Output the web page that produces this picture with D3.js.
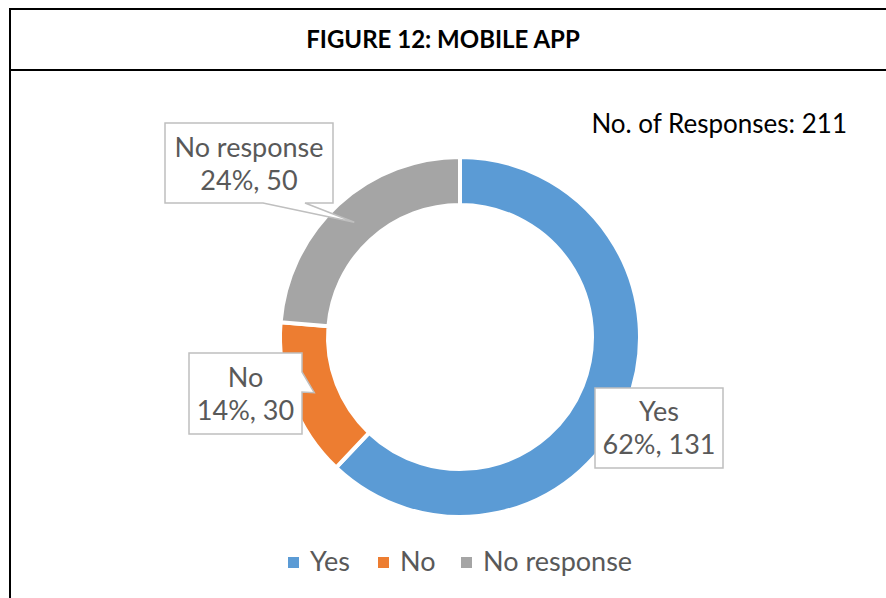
<!DOCTYPE html>
<html>
<head>
<meta charset="utf-8">
<style>
body { margin: 0; padding: 0; background: white; overflow: hidden; }
svg { display: block; }
.lbl { font-family: Lato, "Open Sans", sans-serif; fill: #595959; }
</style>
</head>
<body>
<script src="https://cdn.jsdelivr.net/npm/d3@7"></script>
<script>
var categories = ["Yes", "No", "No response"];
var counts = [131, 30, 50];
var percents = ["62%", "14%", "24%"];
var colors = ["#5B9BD5", "#ED7D31", "#A5A5A5"];
var total = 211;

var width = 886, height = 598;
var cx = 460, cy = 337, rOuter = 180, rInner = 132;

var svg = d3.select("body").append("svg")
    .attr("width", width)
    .attr("height", height);

// frame + title row
svg.append("rect")
    .attr("x", 10).attr("y", 9)
    .attr("width", 900).attr("height", 620)
    .attr("fill", "none").attr("stroke", "#000").attr("stroke-width", 2);
svg.append("line")
    .attr("x1", 10).attr("x2", 900).attr("y1", 70).attr("y2", 70)
    .attr("stroke", "#000").attr("stroke-width", 2);
svg.append("text")
    .attr("x", 443).attr("y", 48)
    .attr("text-anchor", "middle")
    .style("font-family", "Lato, sans-serif")
    .style("font-weight", "bold")
    .style("font-size", "24px")
    .text("FIGURE 12: MOBILE APP");

svg.append("text")
    .attr("x", 847).attr("y", 133)
    .attr("text-anchor", "end")
    .style("font-family", "Lato, sans-serif")
    .style("font-size", "26px")
    .text("No. of Responses: " + total);

var data = categories.map(function(c, i) {
    return { name: c, value: counts[i], pct: percents[i], color: colors[i] };
});

var pie = d3.pie().sort(null).value(function(d) { return d.value; });
var arc = d3.arc().innerRadius(rInner).outerRadius(rOuter);
var midArc = d3.arc().innerRadius(156).outerRadius(156);
var arcs = pie(data);

var g = svg.append("g").attr("transform", "translate(" + cx + "," + cy + ")");
g.selectAll("path.slice")
    .data(arcs)
    .enter().append("path")
    .attr("class", "slice")
    .attr("d", arc)
    .attr("fill", function(d) { return d.data.color; })
    .attr("stroke", "#fff")
    .attr("stroke-width", 4);

// callout boxes: box, which edge has the pointer, and where the notch sits on it
var callouts = [
    { i: 0, box: [595, 388, 723, 468], edge: null, line1: 421, line2: 454 },
    { i: 1, box: [189, 353, 302, 434], edge: "right", notch: [372, 392], line1: 387, line2: 420 },
    { i: 2, box: [165, 123, 333, 203], edge: "bottom", notch: [263, 305], line1: 157, line2: 190 }
];

function calloutPath(c, tip) {
    var x0 = c.box[0], y0 = c.box[1], x1 = c.box[2], y1 = c.box[3];
    var p = d3.path();
    p.moveTo(x0, y0);
    p.lineTo(x1, y0);
    if (c.edge == "right") {
        p.lineTo(x1, c.notch[0]);
        p.lineTo(tip[0], tip[1]);
        p.lineTo(x1, c.notch[1]);
    }
    p.lineTo(x1, y1);
    if (c.edge == "bottom") {
        p.lineTo(c.notch[1], y1);
        p.lineTo(tip[0], tip[1]);
        p.lineTo(c.notch[0], y1);
    }
    p.lineTo(x0, y1);
    p.closePath();
    return p.toString();
}

callouts.forEach(function(c) {
    var a = arcs[c.i];
    var ct = midArc.centroid(a);
    var tip = [cx + ct[0], cy + ct[1]];
    svg.append("path")
        .attr("d", calloutPath(c, tip))
        .attr("fill", "#fff")
        .attr("stroke", "#BFBFBF")
        .attr("stroke-width", 1.5);
    var mx = (c.box[0] + c.box[2]) / 2;
    svg.append("text").attr("class", "lbl")
        .attr("x", mx).attr("y", c.line1)
        .attr("text-anchor", "middle")
        .style("font-size", "27px")
        .text(a.data.name);
    svg.append("text").attr("class", "lbl")
        .attr("x", mx).attr("y", c.line2)
        .attr("text-anchor", "middle")
        .style("font-size", "27px")
        .text(a.data.pct + ", " + a.data.value);
});

// legend
var legendX = [288, 378, 461];
var legend = svg.selectAll("g.legend")
    .data(data)
    .enter().append("g")
    .attr("class", "legend")
    .attr("transform", function(d, i) { return "translate(" + legendX[i] + ",557)"; });
legend.append("rect")
    .attr("width", 11).attr("height", 11)
    .attr("fill", function(d) { return d.color; });
legend.append("text").attr("class", "lbl")
    .attr("x", 22).attr("y", 14)
    .style("font-size", "27px")
    .text(function(d) { return d.name; });
</script>
</body>
</html>
